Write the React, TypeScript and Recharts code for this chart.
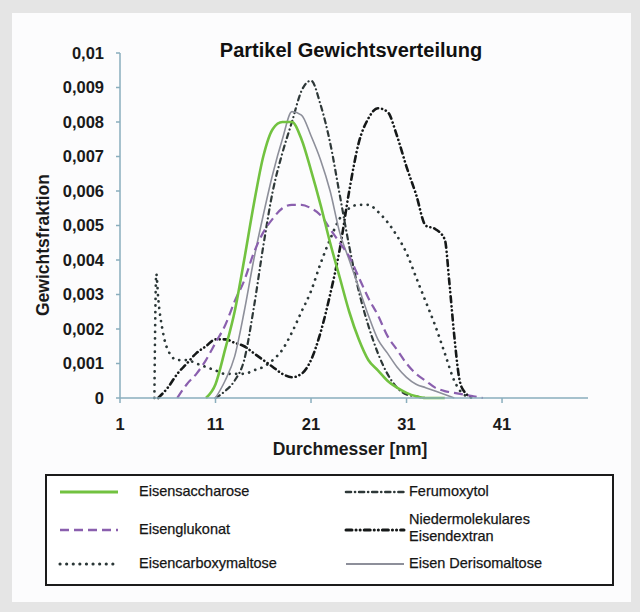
import { Label, Line, LineChart, XAxis, YAxis } from "recharts";

const xTicks = [1, 11, 21, 31, 41];
const yTicks = [0, 0.001, 0.002, 0.003, 0.004, 0.005, 0.006, 0.007, 0.008, 0.009, 0.01];

// Durchmesser [nm] / Gewichtsfraktion
const saccharoseX = [10, 11, 12, 13, 14, 15, 16, 17, 18, 19, 20, 21, 22, 23, 24, 25, 26, 27, 28, 29, 30, 31, 32, 33, 34, 35];
const saccharoseY = [0, 0.0004, 0.0014, 0.0025, 0.004, 0.0056, 0.007, 0.0078, 0.008, 0.008, 0.0075, 0.0066, 0.0056, 0.0045, 0.0035, 0.0025, 0.0017, 0.0011, 0.0008, 0.0005, 0.0003, 0.00015, 0.00005, 0, 0, 0];

const glukonatX = [7, 8, 9, 10, 11, 12, 13, 14, 15, 16, 17, 18, 19, 20, 21, 22, 23, 24, 25, 26, 27, 28, 29, 30, 31, 32, 33, 34, 35, 36, 37, 38, 39];
const glukonatY = [0, 0.0004, 0.0007, 0.0011, 0.0016, 0.0021, 0.0028, 0.0034, 0.0042, 0.0048, 0.0052, 0.0055, 0.0056, 0.0056, 0.0055, 0.0053, 0.0049, 0.0045, 0.0041, 0.0035, 0.0029, 0.0024, 0.0018, 0.0014, 0.001, 0.0007, 0.0005, 0.0003, 0.0002, 0.00015, 0.0001, 0.00005, 0];

const carboxyX = [4.6, 4.8, 5, 5.5, 6, 7, 8, 9, 10, 11, 12, 13, 14, 15, 16, 17, 18, 19, 20, 21, 22, 23, 24, 25, 26, 27, 28, 29, 30, 31, 32, 33, 34, 35, 36, 37, 38];
const carboxyY = [0, 0.0036, 0.0029, 0.0019, 0.0014, 0.0011, 0.0011, 0.001, 0.0009, 0.0008, 0.0007, 0.0007, 0.0007, 0.0008, 0.0009, 0.0011, 0.0014, 0.0019, 0.0025, 0.0031, 0.0039, 0.0046, 0.0052, 0.0055, 0.0056, 0.0056, 0.0054, 0.0051, 0.0047, 0.0042, 0.0035, 0.0028, 0.0021, 0.0013, 0.0005, 0.0001, 0];

const ferumoxytolX = [11, 12, 13, 14, 15, 16, 17, 18, 19, 20, 21, 22, 23, 24, 25, 26, 27, 28, 29, 30, 31, 32, 33, 34];
const ferumoxytolY = [0, 0.0002, 0.0005, 0.0011, 0.0026, 0.0044, 0.006, 0.0071, 0.008, 0.0089, 0.0092, 0.0085, 0.0074, 0.0059, 0.0044, 0.0031, 0.0021, 0.0013, 0.0007, 0.0003, 0.0001, 0.00005, 0, 0];

const dextranX = [5, 6, 7, 8, 9, 10, 11, 12, 13, 14, 15, 16, 17, 18, 19, 20, 21, 22, 23, 24, 25, 26, 27, 28, 29, 30, 31, 32, 33, 34, 35, 35.5, 36, 36.5, 37, 38];
const dextranY = [0, 0.0003, 0.0007, 0.001, 0.0013, 0.0015, 0.0017, 0.0017, 0.0016, 0.0015, 0.0013, 0.0011, 0.0009, 0.0007, 0.0006, 0.0007, 0.0011, 0.0019, 0.003, 0.0043, 0.006, 0.0074, 0.0081, 0.0084, 0.0083, 0.0076, 0.0067, 0.0059, 0.005, 0.0049, 0.0046, 0.0033, 0.0018, 0.0006, 0.0002, 0];

const derisoX = [11, 12, 13, 14, 15, 16, 17, 18, 19, 20, 21, 22, 23, 24, 25, 26, 27, 28, 29, 30, 31, 32, 33, 34, 35, 36];
const derisoY = [0, 0.0005, 0.0012, 0.0025, 0.004, 0.0053, 0.0065, 0.0075, 0.0083, 0.0082, 0.0076, 0.0069, 0.006, 0.0048, 0.004, 0.0032, 0.0024, 0.0017, 0.0013, 0.0009, 0.0006, 0.0004, 0.0003, 0.0002, 0.0001, 0];

const toPoints = (xs: number[], ys: number[]) => xs.map((x, i) => ({ x, y: ys[i] }));

const series = [
	{ name: "Eisencarboxymaltose", data: toPoints(carboxyX, carboxyY), color: "#2b3737", width: 2.7, dash: "0.1 6.5", cap: "round" },
	{ name: "Niedermolekulares Eisendextran", data: toPoints(dextranX, dextranY), color: "#151818", width: 2.6, dash: "6 4 0.1 4 0.1 4", cap: "round" },
	{ name: "Ferumoxytol", data: toPoints(ferumoxytolX, ferumoxytolY), color: "#2e3838", width: 2.2, dash: "5 4 0.1 4", cap: "round" },
	{ name: "Eisen Derisomaltose", data: toPoints(derisoX, derisoY), color: "#8d8f9a", width: 1.6, dash: undefined, cap: "butt" },
	{ name: "Eisenglukonat", data: toPoints(glukonatX, glukonatY), color: "#8a5fae", width: 2.2, dash: "9 5", cap: "butt" },
	{ name: "Eisensaccharose", data: toPoints(saccharoseX, saccharoseY), color: "#72c240", width: 2.6, dash: undefined, cap: "butt" },
];

const legendLeft = ["Eisensaccharose", "Eisenglukonat", "Eisencarboxymaltose"];
const legendRight = ["Ferumoxytol", "Niedermolekulares Eisendextran", "Eisen Derisomaltose"];

const fmt = (v: number) => (v === 0 ? "0" : String(Number(v.toFixed(3))).replace(".", ","));

const font = "Liberation Sans, Arial, sans-serif";
const tickStyle = { fontFamily: font, fontSize: 16.5, fontWeight: 700, fill: "#1a1a1a" };

function Sample({ name }: { name: string }) {
	const s = series.find((d) => d.name === name)!;
	return (
		<svg width={62} height={10} style={{ display: "block" }}>
			<line x1={2} y1={5} x2={60} y2={5} stroke={s.color} strokeWidth={s.width + 0.4} strokeDasharray={s.dash} strokeLinecap={s.cap as any} />
		</svg>
	);
}

function LegendRow({ name, top, left }: { name: string; top: number; left: number }) {
	const lines = name === "Niedermolekulares Eisendextran" ? ["Niedermolekulares", "Eisendextran"] : [name];
	const textLeft = left < 200 ? 81 : 65;
	return (
		<div style={{ position: "absolute", left, top, height: 0 }}>
			<div style={{ position: "absolute", left: 0, top: -5 }}>
				<Sample name={name} />
			</div>
			<div style={{ position: "absolute", left: textLeft, top: lines.length > 1 ? -19 : -9, lineHeight: "17px", whiteSpace: "nowrap" }}>
				{lines.map((l) => (
					<div key={l}>{l}</div>
				))}
			</div>
		</div>
	);
}

export default function App() {
	const rowTops = [492, 530, 564];
	return (
		<div style={{ position: "absolute", left: 0, top: 0, width: 640, height: 612, background: "#e5e5e5", overflow: "hidden" }}>
			<div style={{ position: "absolute", left: 12, top: 13, width: 619, height: 589, background: "#fcfcfd" }} />
			<div style={{ position: "absolute", left: 0, top: 0 }}>
				<LineChart width={640} height={612} margin={{ top: 53, right: 52, bottom: 154, left: 41 }}>
					<XAxis
						type="number"
						dataKey="x"
						domain={[1, 50]}
						ticks={xTicks}
						allowDuplicatedCategory={false}
						height={60}
						tickSize={5}
						tickMargin={15}
						stroke="#8aaebd"
						strokeWidth={1.5}
						tick={tickStyle}
					>
						<Label
							value="Durchmesser [nm]"
							position="insideBottom"
							offset={3}
							dx={-4}
							style={{ fontFamily: font, fontSize: 17.5, fontWeight: 700, fill: "#1a1a1a" }}
						/>
					</XAxis>
					<YAxis
						type="number"
						domain={[0, 0.01]}
						ticks={yTicks}
						tickFormatter={fmt}
						width={79}
						tickSize={4}
						tickMargin={12}
						stroke="#8aaebd"
						strokeWidth={1.5}
						tick={tickStyle}
					/>
					{series.map((s) => (
						<Line
							key={s.name}
							name={s.name}
							data={s.data}
							dataKey="y"
							type="monotone"
							stroke={s.color}
							strokeWidth={s.width}
							strokeDasharray={s.dash}
							strokeLinecap={s.cap as any}
							dot={false}
							activeDot={false}
							isAnimationActive={false}
						/>
					))}
				</LineChart>
			</div>
			<div
				style={{
					position: "absolute",
					left: 351,
					top: 50,
					transform: "translate(-50%, -50%)",
					fontFamily: font,
					fontSize: 20,
					fontWeight: 700,
					color: "#111",
					whiteSpace: "nowrap",
				}}
			>
				Partikel Gewichtsverteilung
			</div>
			<div
				style={{
					position: "absolute",
					left: 43,
					top: 245,
					transform: "translate(-50%, -50%) rotate(-90deg)",
					fontFamily: font,
					fontSize: 17.5,
					fontWeight: 700,
					color: "#1a1a1a",
					whiteSpace: "nowrap",
				}}
			>
				Gewichtsfraktion
			</div>
			<div
				style={{
					position: "absolute",
					left: 45,
					top: 474,
					width: 565,
					height: 108,
					border: "2px solid #1b1b1b",
					background: "#ffffff",
				}}
			/>
			<div style={{ position: "absolute", left: 0, top: 0, fontFamily: font, fontSize: 14.5, color: "#151515", WebkitTextStroke: "0.25px #151515" }}>
				{legendLeft.map((n, i) => (
					<LegendRow key={n} name={n} left={58} top={rowTops[i]} />
				))}
				{legendRight.map((n, i) => (
					<LegendRow key={n} name={n} left={344} top={rowTops[i]} />
				))}
			</div>
		</div>
	);
}
